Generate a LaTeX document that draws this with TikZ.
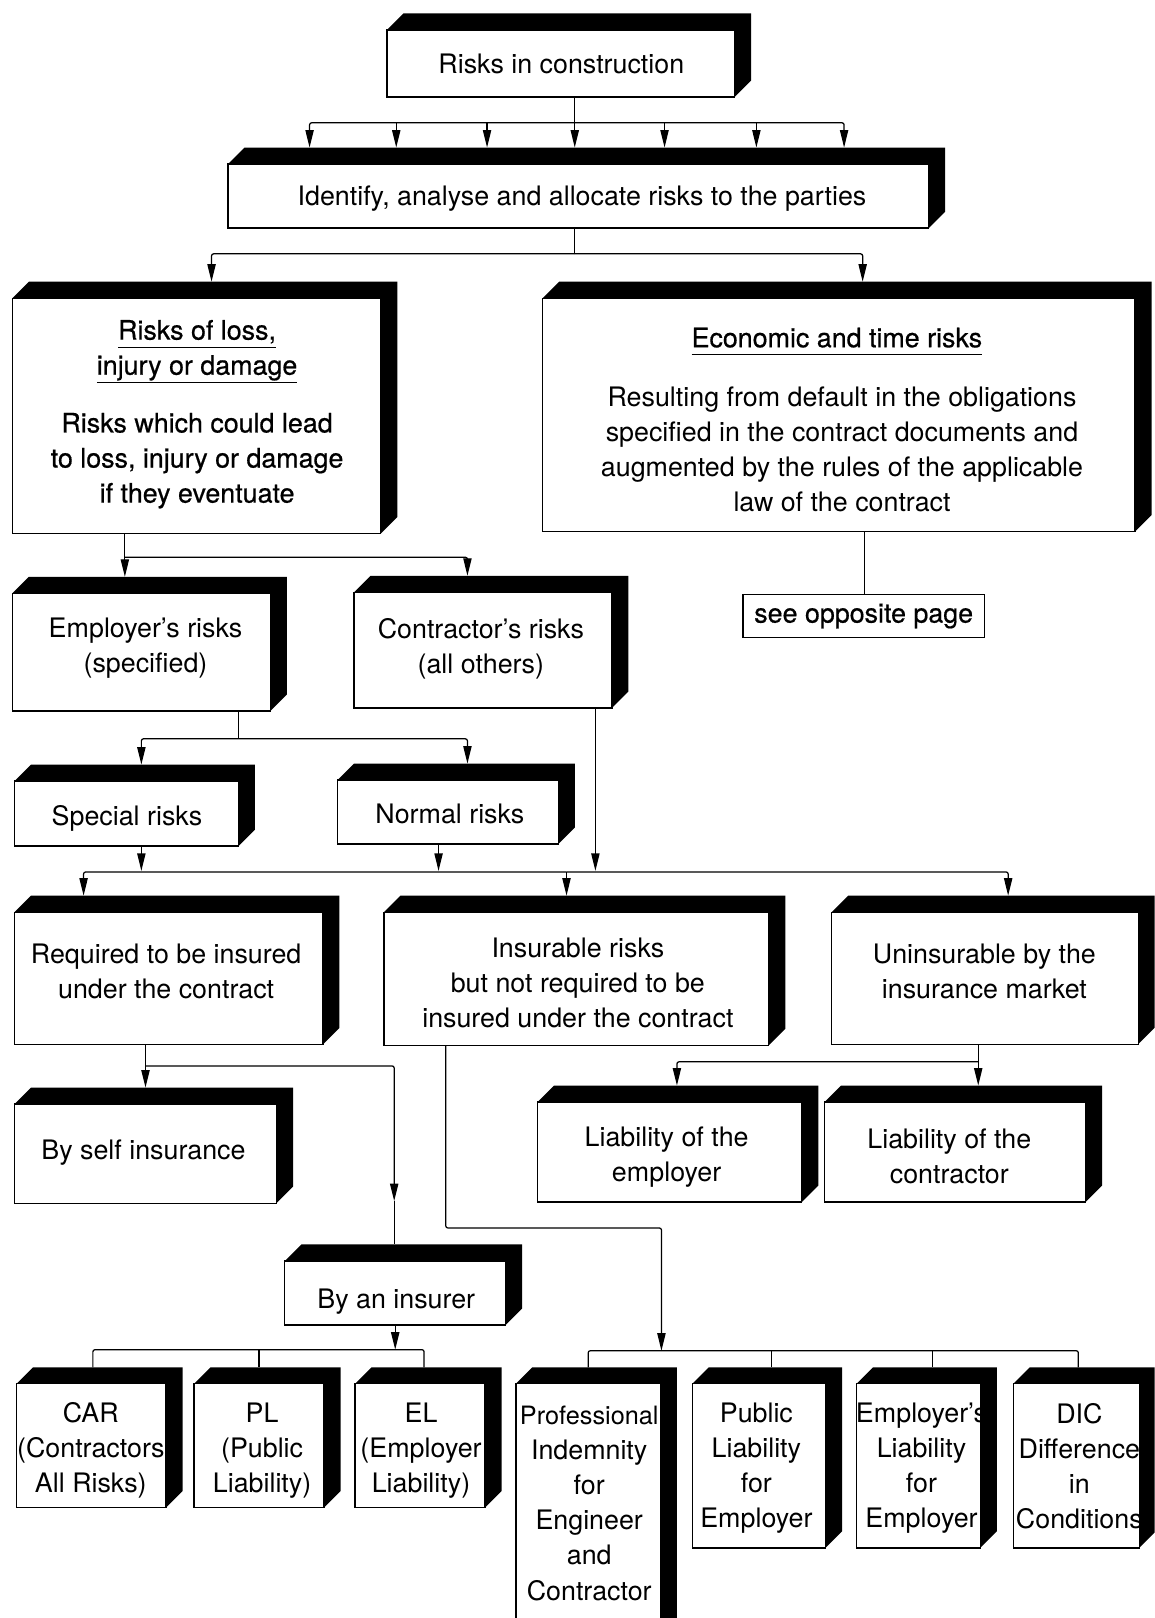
\documentclass[tikz,border=0pt]{standalone}
\usepackage{fontspec}
\setmainfont{TeX Gyre Heros}
\newfontfamily\medfont{TeX Gyre Heros}[FakeBold=0.6]
\usetikzlibrary{arrows.meta}
\newcommand\myul[1]{\setbox0=\hbox{#1}\rlap{\rule[-8pt]{\wd0}{1.2pt}}\box0}
\newcommand\mkbox[5]{\node[boxarea, minimum width={(#3)-(#2)+16}, minimum height={(#5)-(#4)+16}] (#1) at ({((#2)+(#3)+16)/2},{((#4)+(#5)-16)/2}) {};}
\begin{document}
\begin{tikzpicture}[x=1pt,y=-1pt,
  boxarea/.style={inner sep=0pt, outer sep=0pt},
  face/.style={draw, fill=white, line width=1.3pt},
  txt/.style={font=\fontsize{26}{34}\selectfont, align=center, inner sep=0pt, yshift=-2pt,
    execute at begin node=\strut, execute at end node=\strut},
  conn/.style={line width=1.2pt, rounded corners=2pt},
  arr/.style={conn, -{Triangle[length=17pt,width=8pt]}},
]
\useasboundingbox (0,0) rectangle (1119,1568);
\fill[white] (0,0) rectangle (1119,1568);
\clip (0,0) rectangle (1119,1568);

% boxes (front face x0,x1,y0,y1)
\mkbox{b1}{375}{712}{29}{94}
\mkbox{b2}{221}{900}{159}{221}
\mkbox{b3}{12}{369}{289}{517}
\mkbox{b4}{526}{1100}{289}{515}
\mkbox{b5}{12}{262}{575}{689}
\mkbox{b6}{343}{593}{574}{686}
\mkbox{b7}{14}{231}{757}{820}
\mkbox{b8}{327}{541}{756}{818}
\mkbox{b9}{14}{313}{884}{1012}
\mkbox{b10}{372}{745}{884}{1013}
\mkbox{b11}{806}{1103}{884}{1012}
\mkbox{b12}{14}{268}{1070}{1166}
\mkbox{b14}{521}{777}{1068}{1165}
\mkbox{b15}{799}{1052}{1068}{1165}
\mkbox{b13}{276}{490}{1222}{1284}
\mkbox{car}{16}{161}{1341}{1461}
\mkbox{pl}{188}{314}{1341}{1461}
\mkbox{el}{344}{470}{1341}{1461}
\mkbox{pi}{500}{640}{1341}{1600}
\mkbox{publ}{671}{800}{1341}{1500}
\mkbox{empl}{830}{950}{1341}{1500}
\mkbox{dic}{982}{1104}{1341}{1500}

\foreach \n in {b1,b2,b3,b4,b5,b6,b7,b8,b9,b10,b11,b12,b13,b14,b15,car,pl,el,pi,publ,empl,dic}{
  \fill ([yshift=-16pt]\n.north west) -- ([xshift=16pt]\n.north west) -- (\n.north east)
    -- ([yshift=16pt]\n.south east) -- ([xshift=-16pt]\n.south east)
    -- ([xshift=-16pt,yshift=-16pt]\n.north east) -- cycle;
  \draw[face] (\n.south west) rectangle ([xshift=-16pt,yshift=-16pt]\n.north east);
}

\node[draw, line width=1.3pt, minimum width=234, minimum height=42, inner sep=0pt,
  font=\medfont\fontsize{26}{34}\selectfont] (opp) at (837,597) {see opposite page};

% texts
\node[txt] (t1) at (544,62.7) {Risks in construction};
\node[txt] (t2) at (564,190.7) {Identify, analyse and allocate risks to the parties};
\node[txt, font=\medfont\fontsize{26}{34}\selectfont] (t3a) at (191,339.7) {\myul{Risks of loss,}\\\myul{injury or damage}};
\node[txt, font=\medfont\fontsize{26}{34}\selectfont] (t3b) at (191,446.7) {Risks which could lead\\to loss, injury or damage\\if they eventuate};
\node[txt, font=\medfont\fontsize{26}{34}\selectfont] (t4a) at (811,327.7) {\myul{Economic and time risks}};
\node[txt] (t4b) at (816,438.7) {Resulting from default in the obligations\\specified in the contract documents and\\augmented by the rules of the applicable\\law of the contract};
\node[txt] (t5) at (141,628.7) {Employer’s risks\\(specified)};
\node[txt] (t6) at (466,628.7) {Contractor’s risks\\(all others)};
\node[txt] (t7) at (123,790.7) {Special risks};
\node[txt] (t8) at (436,789.7) {Normal risks};
\node[txt] (t9) at (161,944.7) {Required to be insured\\under the contract};
\node[txt] (t10) at (560,955.7) {Insurable risks\\but not required to be\\insured under the contract};
\node[txt] (t11) at (954,944.7) {Uninsurable by the\\insurance market};
\node[txt] (t12) at (139,1114.7) {By self insurance};
\node[txt] (t14) at (646,1121.7) {Liability of the\\employer};
\node[txt] (t15) at (920,1123.7) {Liability of the\\contractor};
\node[txt] (t13) at (384,1259.7) {By an insurer};
\node[txt] (tcar) at (88,1405.7) {CAR\\(Contractors\\All Risks)};
\node[txt] (tpl) at (254,1405.7) {PL\\(Public\\Liability)};
\node[txt] (tel) at (408,1405.7) {EL\\(Employer\\Liability)};
\node[txt] (tpi) at (571,1459.7) {{\fontsize{24.5}{34}\selectfont Professional}\\Indemnity\\for\\Engineer\\and\\Contractor};
\node[txt] (tpubl) at (733,1422.7) {Public\\Liability\\for\\Employer};
\node[txt] (templ) at (893,1422.7) {Employer’s\\Liability\\for\\Employer};
\node[txt] (tdic) at (1046,1423.7) {DIC\\Difference\\in\\Conditions};

% junction coordinates
\coordinate (j1) at (557,119);
\coordinate (j2) at (557,246);
\coordinate (j3) at (121,540);
\coordinate (j4) at (231,716);
\coordinate (j5) at (549,845);
\coordinate (j6) at (141,1033);
\coordinate (m1) at (382,1164);
\coordinate (j7) at (383,1308);
\coordinate (j8) at (641,1309);
\coordinate (j9) at (948,1029);

% connectors
\draw[conn] (b1.south -| j1) -- (j1);
\draw[arr] (j1) -| (b2.north -| 300,0);
\draw[arr] (j1) -| (b2.north -| 818,0);
\foreach \x in {384,472,557,644,733} \draw[arr] (\x,119) -- (b2.north -| \x,0);

\draw[conn] (b2.south -| j2) -- (j2);
\draw[arr] (j2) -| (b3.north -| 205,0);
\draw[arr] (j2) -| (b4.north -| 836,0);

\draw[conn] (b4.south -| 838,0) -- (opp.north -| 838,0);

\draw[arr] (b3.south -| j3) -- (b5.north -| j3);
\draw[arr] (j3) -| (b6.north -| 453,0);

\draw[conn] (b5.south -| j4) -- (j4);
\draw[arr] (j4) -| (b7.north -| 137,0);
\draw[arr] (j4) -| (b8.north -| 453,0);

\draw[arr] (b6.south -| 577,0) -- (577,844);
\draw[arr] (b7.south -| 137,0) -- (137,844);
\draw[arr] (b8.south -| 425,0) -- (425,844);
\draw[arr] (j5) -| (b9.north -| 81,0);
\draw[arr] (j5) -| (b11.north -| 977,0);
\draw[arr] (j5) -- (b10.north -| j5);

\draw[arr] (b9.south -| j6) -- (b12.north -| j6);
\draw[arr] (j6) -| (m1);
\draw[conn] (m1) -- (b13.north -| m1);

\draw[arr] (b13.south -| j7) -- (j7);
\draw[conn] (car.north -| 90,0) -- (90,1308) -- (411,1308) -- (el.north -| 411,0);
\draw[conn] (251,1308) -- (pl.north -| 251,0);

\draw[arr] (b10.south -| 432,0) -- (432,1190) -- (641,1190) -- (j8);
\draw[conn] (pi.north -| 570,0) -- (570,1309) -- (1045,1309) -- (dic.north -| 1045,0);
\draw[conn] (748,1309) -- (publ.north -| 748,0);
\draw[conn] (904,1309) -- (empl.north -| 904,0);

\draw[conn] (b11.south -| j9) -- (j9);
\draw[arr] (j9) -- (b15.north -| j9);
\draw[arr] (j9) -| (b14.north -| 656,0);
\end{tikzpicture}
\end{document}
